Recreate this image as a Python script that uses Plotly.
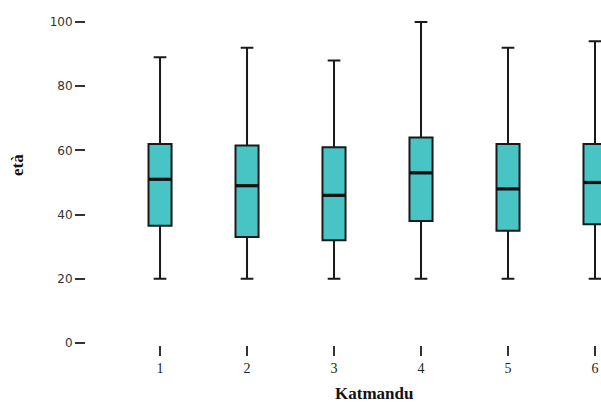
import plotly.graph_objects as go

# Box-plot summary statistics of age (età) per Katmandu group
groups = [1, 2, 3, 4, 5, 6]
lower_whisker = [20, 20, 20, 20, 20, 20]
q1_values = [36.5, 33, 32, 38, 35, 37]
median_values = [51, 49, 46, 53, 48, 50]
q3_values = [62, 61.5, 61, 64, 62, 62]
upper_whisker = [89, 92, 88, 100, 92, 94]

y_ticks = [0, 20, 40, 60, 80, 100]

BOX_WIDTH = 0.265

fig = go.Figure()
fig.add_trace(go.Box(
    x=groups,
    q1=q1_values,
    median=median_values,
    q3=q3_values,
    lowerfence=lower_whisker,
    upperfence=upper_whisker,
    width=BOX_WIDTH,
    whiskerwidth=0.55,
    fillcolor="#48C4C5",
    line=dict(color="#1a1a1a", width=2),
    boxpoints=False,
    hoverinfo="skip",
    showlegend=False,
))

# Heavier median bars drawn over each box
med_x, med_y = [], []
for g, m in zip(groups, median_values):
    med_x += [g - BOX_WIDTH / 2, g + BOX_WIDTH / 2, None]
    med_y += [m, m, None]
fig.add_trace(go.Scatter(
    x=med_x, y=med_y, mode="lines",
    line=dict(color="#111111", width=3.2),
    hoverinfo="skip", showlegend=False,
))

fig.update_layout(
    width=601,
    height=405,
    margin=dict(l=86, r=0, t=0, b=60),
    paper_bgcolor="white",
    plot_bgcolor="white",
    xaxis=dict(
        range=[0.149, 6.069],
        tickmode="array",
        tickvals=groups,
        ticktext=[str(g) for g in groups],
        showgrid=False,
        zeroline=False,
        showline=False,
        ticks="outside",
        ticklen=10,
        tickwidth=2,
        tickcolor="#333333",
        tickfont=dict(family="Liberation Serif", size=14, color="#222222"),
    ),
    yaxis=dict(
        range=[-0.62, 106.85],
        tickmode="array",
        tickvals=y_ticks,
        ticktext=[str(v) for v in y_ticks],
        showgrid=False,
        zeroline=False,
        showline=False,
        ticks="outside",
        ticklen=10,
        tickwidth=1.5,
        tickcolor="#333333",
        tickfont=dict(family="DejaVu Sans", size=12, color="#333333"),
    ),
    annotations=[
        dict(
            text="<b>età</b>",
            xref="paper", yref="paper",
            x=-0.132, y=0.522,
            xanchor="center", yanchor="middle",
            textangle=-90,
            showarrow=False,
            font=dict(family="Liberation Serif", size=17, color="#111111"),
        ),
        dict(
            text="<b>Katmandu</b>",
            xref="paper", yref="paper",
            x=0.56, y=-0.14,
            xanchor="center", yanchor="middle",
            showarrow=False,
            font=dict(family="Liberation Serif", size=17, color="#111111"),
        ),
    ],
)

fig.write_html("out.html")
